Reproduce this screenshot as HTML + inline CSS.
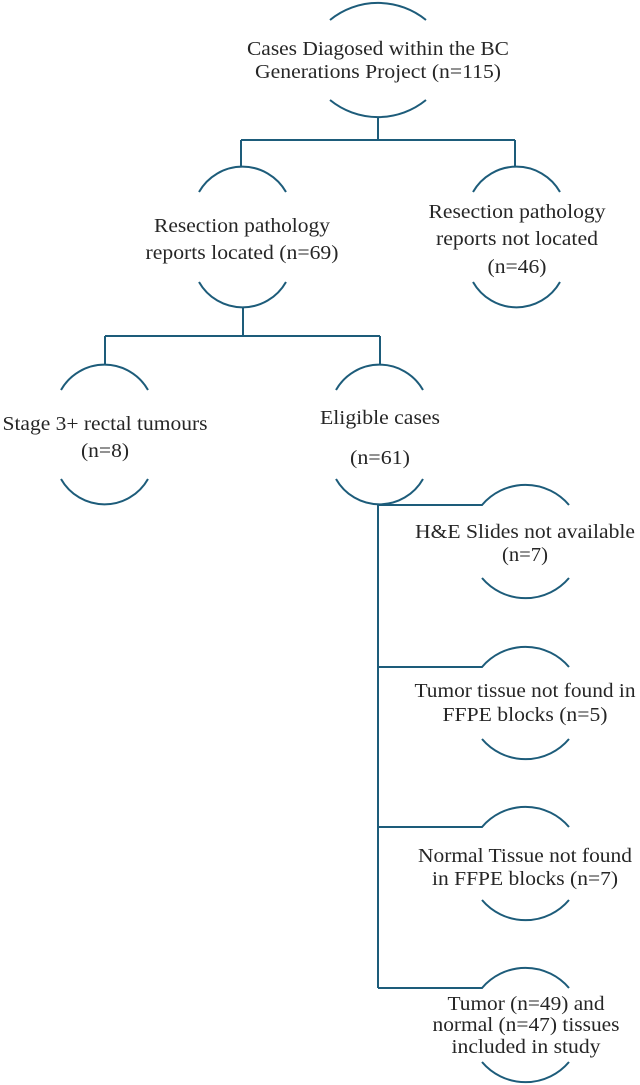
<!DOCTYPE html>
<html><head><meta charset="utf-8"><style>
html,body{margin:0;padding:0;background:#fff;}
svg{display:block;}
text{font-family:"Liberation Serif","Times New Roman",serif;font-size:20px;fill:#262626;}
</style></head><body>
<svg width="640" height="1085" viewBox="0 0 640 1085" xmlns="http://www.w3.org/2000/svg">
<g fill="none" stroke="#1d5c7a" stroke-width="2">
<path d="M330 20 A76 76 0 0 1 426 20"/>
<path d="M330 100 A76 76 0 0 0 426 100"/>
<path d="M378 117 V140 M241 140 H515 M241 140 V166 M515 140 V166"/>
<path d="M199 192 A50 50 0 0 1 286 192"/>
<path d="M199 282 A50 50 0 0 0 286 282"/>
<path d="M473 192 A50 50 0 0 1 560 192"/>
<path d="M473 282 A50 50 0 0 0 560 282"/>
<path d="M243 307 V336 M105 336 H380 M105 336 V364 M380 336 V364"/>
<path d="M61 390 A50 50 0 0 1 148 390"/>
<path d="M61 479 A50 50 0 0 0 148 479"/>
<path d="M336 390 A50 50 0 0 1 423 390"/>
<path d="M336 479 A50 50 0 0 0 423 479"/>
<path d="M378 505 V988"/>
<path d="M378 505 H482 A57 57 0 0 1 569 505"/>
<path d="M482 578 A57 57 0 0 0 569 578"/>
<path d="M378 667 H482 A57 57 0 0 1 569 667"/>
<path d="M482 739 A57 57 0 0 0 569 739"/>
<path d="M378 827 H482 A57 57 0 0 1 569 827"/>
<path d="M482 900 A57 57 0 0 0 569 900"/>
<path d="M378 988 H482 A57 57 0 0 1 569 988"/>
<path d="M482 1062 A57 57 0 0 0 569 1062"/>
</g>
<g text-anchor="middle" font-family="Liberation Serif, serif" font-size="20">
<text x="378" y="55" textLength="262" lengthAdjust="spacingAndGlyphs">Cases Diagosed within the BC</text>
<text x="378" y="78" textLength="246" lengthAdjust="spacingAndGlyphs">Generations Project (n=115)</text>
<text x="242" y="232" textLength="176" lengthAdjust="spacingAndGlyphs">Resection pathology</text>
<text x="242" y="259" textLength="193" lengthAdjust="spacingAndGlyphs">reports located (n=69)</text>
<text x="517" y="218" textLength="177" lengthAdjust="spacingAndGlyphs">Resection pathology</text>
<text x="517" y="245" textLength="162" lengthAdjust="spacingAndGlyphs">reports not located</text>
<text x="517" y="273" textLength="59" lengthAdjust="spacingAndGlyphs">(n=46)</text>
<text x="105" y="430" textLength="205" lengthAdjust="spacingAndGlyphs">Stage 3+ rectal tumours</text>
<text x="105" y="457" textLength="48" lengthAdjust="spacingAndGlyphs">(n=8)</text>
<text x="380" y="424" textLength="120" lengthAdjust="spacingAndGlyphs">Eligible cases</text>
<text x="380" y="464" textLength="60" lengthAdjust="spacingAndGlyphs">(n=61)</text>
<text x="525" y="538" textLength="220" lengthAdjust="spacingAndGlyphs">H&amp;E Slides not available</text>
<text x="525" y="561" textLength="46" lengthAdjust="spacingAndGlyphs">(n=7)</text>
<text x="525" y="697" textLength="221" lengthAdjust="spacingAndGlyphs">Tumor tissue not found in</text>
<text x="525" y="721" textLength="165" lengthAdjust="spacingAndGlyphs">FFPE blocks (n=5)</text>
<text x="525" y="862" textLength="214" lengthAdjust="spacingAndGlyphs">Normal Tissue not found</text>
<text x="525" y="885" textLength="186" lengthAdjust="spacingAndGlyphs">in FFPE blocks (n=7)</text>
<text x="526" y="1010" textLength="157" lengthAdjust="spacingAndGlyphs">Tumor (n=49) and</text>
<text x="526" y="1031" textLength="187" lengthAdjust="spacingAndGlyphs">normal (n=47) tissues</text>
<text x="526" y="1053" textLength="149" lengthAdjust="spacingAndGlyphs">included in study</text>
</g>
</svg>
</body></html>
